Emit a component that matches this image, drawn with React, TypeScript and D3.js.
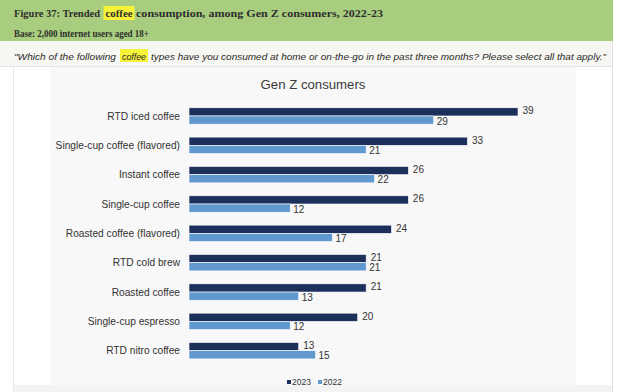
import React from "react";
import * as d3 from "d3";

const categories = [
  "RTD iced coffee",
  "Single-cup coffee (flavored)",
  "Instant coffee",
  "Single-cup coffee",
  "Roasted coffee (flavored)",
  "RTD cold brew",
  "Roasted coffee",
  "Single-cup espresso",
  "RTD nitro coffee",
];
const values2023 = [39, 33, 26, 26, 24, 21, 21, 20, 13];
const values2022 = [29, 21, 22, 12, 17, 21, 13, 12, 15];
const seriesNames = ["2023", "2022"];
const seriesColors = ["#1d2f5b", "#6198d0"];

const titleParts = ["Figure 37: Trended", "coffee", "consumption, among Gen Z consumers, 2022-23"];
const questionParts = [
  "\"Which of the following",
  "coffee",
  "types have you consumed at home or on-the-go in the past three months? Please select all that apply.\"",
];

const W = 620;
const H = 392;

export default function App() {
  const x = d3.scaleLinear().domain([0, 39]).range([189, 518]);
  const y = d3.scaleBand<string>().domain(categories).range([101.3, 365.4]).padding(0);
  const barH = 8.2;
  const chartFont = "'Liberation Sans', Arial, sans-serif";
  const headFont = "'Liberation Serif', 'DejaVu Serif', serif";
  const qFont = "'Liberation Sans', Arial, sans-serif";

  const titleSeg = [
    [14, 86],
    [105.5, 27],
    [136, 247],
  ];
  const qSeg = [
    [14, 102],
    [122, 24],
    [151, 455],
  ];

  return (
    <svg
      width={W}
      height={H}
      style={{ position: "absolute", left: 0, top: 0, background: "#ffffff" }}
    >
      {/* header band */}
      <rect x={0} y={0} width={613} height={41} fill="#a9cd7e" />
      <rect x={103.5} y={6} width={31} height={14} fill="#f7f23a" />
      {titleParts.map((t, i) => (
        <text key={i} x={titleSeg[i][0]} y={17} fontFamily={headFont} fontWeight="bold" fontSize={11.2} fill="#2e2e2e"
          textLength={titleSeg[i][1]} lengthAdjust="spacingAndGlyphs">
          {t}
        </text>
      ))}
      <text x={14} y={36.5} fontFamily={headFont} fontWeight="bold" fontSize={11.2} fill="#2e2e2e"
        textLength={135} lengthAdjust="spacingAndGlyphs">
        Base: 2,000 internet users aged 18+
      </text>
      {/* question row */}
      <rect x={0} y={41} width={613} height={26} fill="#f6f6f2" />
      <line x1={0} x2={613} y1={66.5} y2={66.5} stroke="#e4e4e0" />
      <rect x={120} y={49} width={28} height={13} fill="#f7f23a" />
      {questionParts.map((t, i) => (
        <text key={i} x={qSeg[i][0]} y={59.5} fontFamily={qFont} fontStyle="italic" fontSize={9.6} fill="#2a2a2a"
          textLength={qSeg[i][1]} lengthAdjust="spacingAndGlyphs">
          {t}
        </text>
      ))}
      {/* frame */}
      <line x1={13.5} x2={13.5} y1={67} y2={392} stroke="#e6e6e6" />
      <line x1={612.5} x2={612.5} y1={41} y2={392} stroke="#e0e0e0" />
      <rect x={14} y={385} width={598} height={7} fill="#f3f3f3" />
      {/* chart background */}
      <rect x={50} y={67} width={526} height={318} fill="#f8f8f8" />

      <text x={313} y={89} textAnchor="middle" fontFamily={chartFont} fontSize={13.2} fill="#3a3a3a">
        Gen Z consumers
      </text>

      {categories.map((c, i) => {
        const band = y(c)!;
        const cy = band + y.bandwidth() / 2;
        const vals = [values2023[i], values2022[i]];
        return (
          <g key={c}>
            <text x={180} y={cy} dy="0.35em" textAnchor="end" fontFamily={chartFont} fontSize={10.2} fill="#333">
              {c}
            </text>
            {vals.map((v, k) => {
              const top = k === 0 ? cy - barH : cy;
              return (
                <g key={k}>
                  <rect
                    x={x(0)}
                    y={top}
                    width={x(v) - x(0)}
                    height={barH}
                    fill={seriesColors[k]}
                    stroke="#ffffff"
                    strokeWidth={0.6}
                  />
                  <text
                    x={x(v) + (k === 0 ? 4.5 : 3)}
                    y={k === 0 ? cy - 5.2 : cy + 5.2}
                    dy="0.35em"
                    fontFamily={chartFont}
                    fontSize={10}
                    fill="#333"
                  >
                    {v}
                  </text>
                </g>
              );
            })}
          </g>
        );
      })}

      {/* legend */}
      {seriesNames.map((s, k) => {
        const lx = 287 + k * 31;
        return (
          <g key={s}>
            <rect x={lx} y={380} width={4} height={4} fill={seriesColors[k]} />
            <text x={lx + 5} y={382.5} dy="0.35em" fontFamily={chartFont} fontSize={8.5} fill="#333">
              {s}
            </text>
          </g>
        );
      })}
    </svg>
  );
}
